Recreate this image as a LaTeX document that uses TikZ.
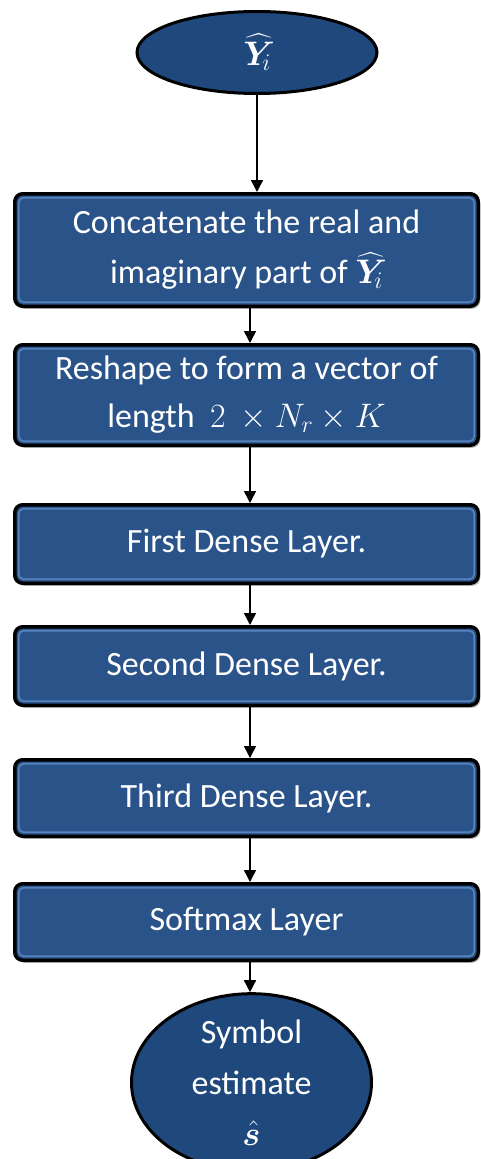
\RequirePackage{fix-cm}
\documentclass[tikz,border=0pt]{standalone}
\usepackage{amsmath,bm}
\usepackage{fontspec}
\setmainfont{Carlito}
\usetikzlibrary{shapes.geometric,arrows.meta,shadows,calc}
\definecolor{boxblue}{RGB}{42,83,137}
\definecolor{ellblue}{RGB}{31,73,125}
\definecolor{bevelblue}{RGB}{88,132,188}
\begin{document}
\begin{tikzpicture}[x=1pt,y=-1pt,
  layerbox/.style={rectangle, rounded corners=8pt, draw=black, line width=3.5pt,
    fill=boxblue, text=white, font=\fontsize{34}{50}\selectfont, align=center,
    minimum width=463.5pt, inner sep=0pt,
    drop shadow={shadow xshift=2pt,shadow yshift=-2.5pt,opacity=0.55},
    path picture={\draw[bevelblue, line width=1.6pt, rounded corners=5pt]
      ([shift={(4pt,-4pt)}]path picture bounding box.north west) rectangle
      ([shift={(-4pt,4pt)}]path picture bounding box.south east);}},
  ellnode/.style={ellipse, draw=black, line width=3pt, fill=ellblue, text=white,
    inner sep=0pt, align=center, font=\fontsize{34}{51}\selectfont},
  arr/.style={draw=black, line width=1.5pt, -{Triangle[length=12pt,width=12pt]}}]
\useasboundingbox (0,0) rectangle (481,1159);
\fill[white] (0,0) rectangle (481,1159);

\node[ellnode, minimum width=240pt, minimum height=82pt] (e1) at (257,52.5) {$\widehat{\bm{Y}}_{\!i}$};

\node[layerbox, minimum height=112.5pt] (b1) at (246.5,250) {Concatenate the real and\\imaginary part of $\widehat{\bm{Y}}_{\!i}$};
\node[layerbox, minimum height=100.5pt, font=\fontsize{34}{48}\selectfont] (b2) at (246.5,395) {Reshape to form a vector of\\length\ \ $2\ \times N_r \times K$};
\node[layerbox, minimum height=78.5pt] (b3) at (246.5,544) {First Dense Layer.};
\node[layerbox, minimum height=78.5pt] (b4) at (246.5,666) {Second Dense Layer.};
\node[layerbox, minimum height=76.5pt] (b5) at (246.5,798) {Third Dense Layer.};
\node[layerbox, minimum height=76.5pt] (b6) at (246.5,922) {Softmax Layer};

\node[ellnode, minimum width=240pt, minimum height=152pt] (e2) at (251.5,1082.5) {Symbol\\estimate\\$\hat{\bm{s}}$};

\draw[arr] (e1.south) -- (e1.south |- b1.north);
\draw[arr] ([xshift=3.5pt]b1.south) -- ([xshift=3.5pt]b2.north);
\draw[arr] ([xshift=3.5pt]b2.south) -- ([xshift=3.5pt]b3.north);
\draw[arr] ([xshift=3.5pt]b3.south) -- ([xshift=3.5pt]b4.north);
\draw[arr] ([xshift=3.5pt]b4.south) -- ([xshift=3.5pt]b5.north);
\draw[arr] ([xshift=3.5pt]b5.south) -- ([xshift=3.5pt]b6.north);
\draw[arr] ([xshift=3.5pt]b6.south) -- ([xshift=3.5pt]b6.south |- e2.north);
\end{tikzpicture}
\end{document}
